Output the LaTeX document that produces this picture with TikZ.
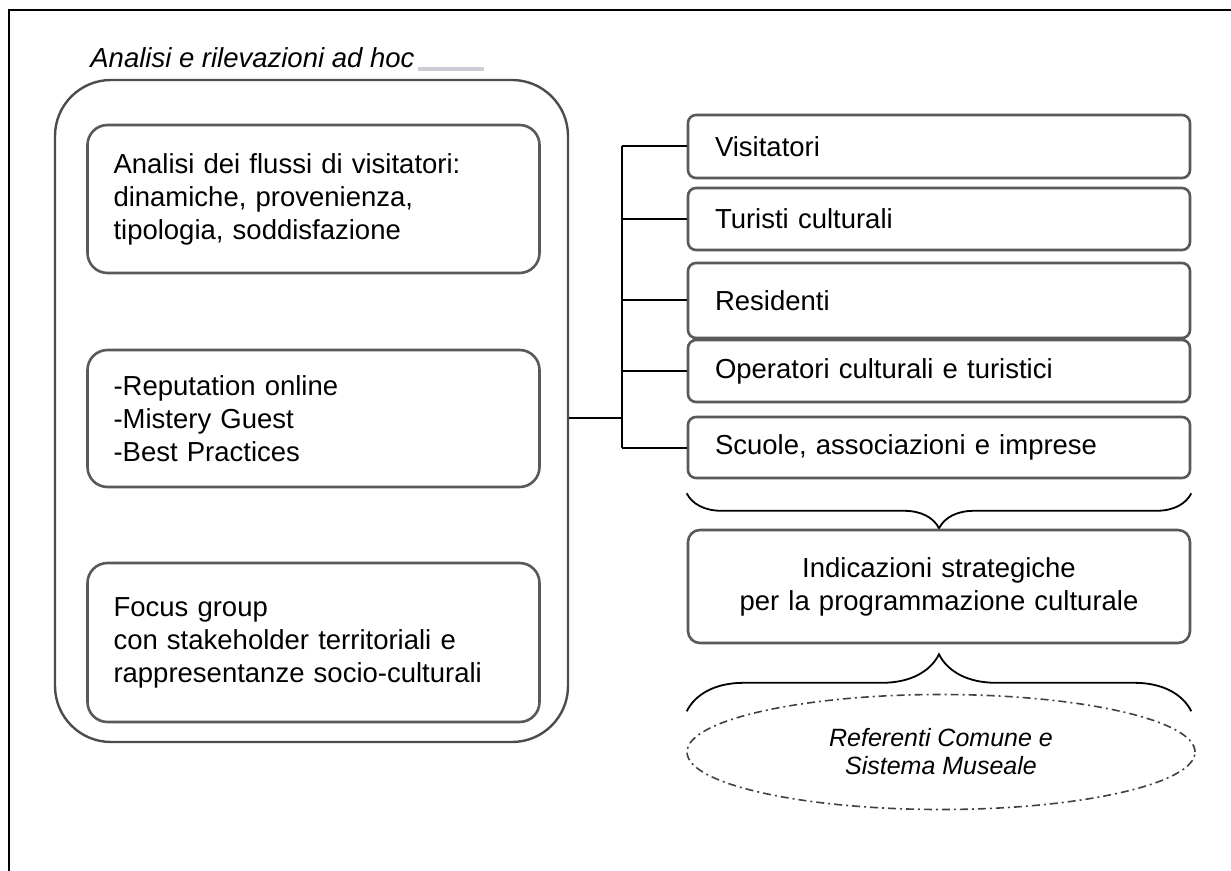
\documentclass[tikz,border=0pt]{standalone}
\usepackage{fontspec}
\setmainfont{Liberation Sans}
\usetikzlibrary{positioning, shapes.geometric, decorations.pathreplacing}
\tikzset{
  frame/.style = {line width=1pt},
  heading/.style = {inner sep=0, font=\fontsize{13.75}{16.5}\selectfont\itshape},
  underline/.style = {draw=blue!15!black!20, line width=2pt},
  outerbox/.style = {draw=black!70, line width=1.2pt, rounded corners=28pt,
    minimum width=256.5pt, minimum height=331pt},
  toolbox/.style = {draw=black!65, line width=1.3pt, rounded corners=10pt,
    inner xsep=13pt, text width=200pt, align=left, minimum height=#1,
    font=\fontsize{13.75}{16.5}\selectfont},
  target/.style = {draw=black!65, line width=1.3pt, rounded corners=4pt,
    inner xsep=13.5pt, text width=224pt, align=left,
    font=\fontsize{13.75}{16.5}\selectfont},
  link/.style = {line width=1pt},
  curly/.style = {decorate, line width=0.9pt},
  referee/.style = {draw=black!75, line width=0.8pt, ellipse, inner sep=0,
    dash pattern=on 4pt off 2pt on 1pt off 2pt,
    minimum width=254pt, minimum height=57.5pt, align=center,
    font=\fontsize{12.5}{14}\selectfont\itshape},
}

\begin{document}
\begin{tikzpicture}[x=0.5pt, y=-0.5pt]
  \useasboundingbox (0,0) rectangle (1231,871);
  % page frame, cut at right and bottom
  \draw [frame] (1231,10) -- (9,10) -- (9,871);

  \node (title) [heading, anchor=base west] at (90,68) {Analisi e rilevazioni ad hoc};
  \draw [underline] ([xshift=1.5pt, yshift=-0.5pt]title.base east) -- ++(66,0);

  % left column: the three kinds of analysis
  \node (outer) [outerbox] at (311.5,411) {};
  \foreach \N/\y/\h/\t in {
    flussi/199/74pt/{Analisi dei flussi di visitatori:\\dinamiche, provenienza,\\tipologia, soddisfazione},
    metodi/418.5/68.5pt/{-Reputation online\\-Mistery Guest\\-Best Practices},
    focus/642.5/79.5pt/{Focus group\\con stakeholder territoriali e\\rappresentanze socio-culturali}%
  }{
    \node (\N) [toolbox=\h] at (313.5,\y) {\t};
  }

  % right column: the targets
  \foreach \N/\y/\h/\t in {
    visit/146.5/31.5pt/Visitatori,
    turisti/219/31pt/Turisti culturali,
    resid/300.5/37.5pt/Residenti,
    operat/371/31pt/Operatori culturali e turistici,
    scuole/447.5/30.5pt/{Scuole, associazioni e imprese}%
  }{
    \node (\N) [target, minimum height=\h] at (939,\y) {\t};
  }

  % tree from the big box to the targets
  \coordinate (hub) at (622,418);
  \draw [link] (outer.east |- hub) -- (hub);
  \draw [link] (hub |- visit.west) -- (hub |- scuole.west);
  \foreach \N in {visit, turisti, resid, operat, scuole}
    \draw [link] (hub |- \N.west) -- (\N.west);

  \draw [curly, decoration={brace, mirror, amplitude=17.5pt}]
    ([yshift=-7pt]scuole.south west) -- ([yshift=-7pt]scuole.south east);

  \node (indic) [target, align=center, minimum height=56.5pt, rounded corners=6pt]
    at (939,586.5) {Indicazioni strategiche\\per la programmazione culturale};

  \draw [curly, decoration={brace, amplitude=28.5pt}]
    ([yshift=-33.5pt]indic.south west) -- ([yshift=-33.5pt]indic.south east);

  \node (refer) [referee] at (941,752) {Referenti Comune e\\Sistema Museale};
\end{tikzpicture}
\end{document}
